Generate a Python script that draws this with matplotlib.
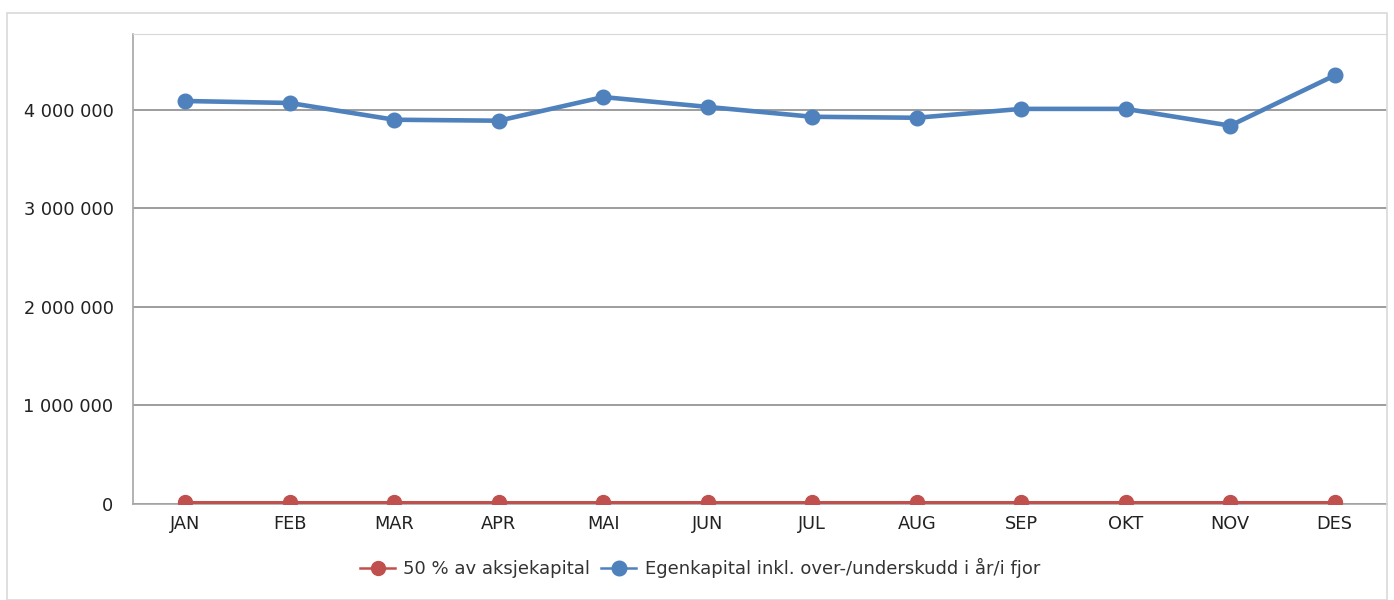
import matplotlib
matplotlib.use("Agg")
import matplotlib.pyplot as plt
from matplotlib.ticker import FuncFormatter
from matplotlib.patches import Rectangle

months = ["JAN", "FEB", "MAR", "APR", "MAI", "JUN", "JUL", "AUG", "SEP", "OKT", "NOV", "DES"]
aksjekapital_50 = [20000, 20000, 20000, 20000, 20000, 20000,
                   20000, 20000, 20000, 20000, 20000, 20000]
egenkapital = [4090000, 4070000, 3900000, 3890000, 4130000, 4030000,
               3930000, 3920000, 4010000, 4010000, 3840000, 4350000]

plt.rcParams['font.family'] = ['DejaVu Sans']

fig = plt.figure(figsize=(13.94, 6.0), dpi=100)
W, H = 1394, 600
# outer frame
fig.patches.append(Rectangle((7 / W, 0), (1387 - 7) / W, (600 - 13) / H,
                             transform=fig.transFigure, fill=False,
                             edgecolor="#d9d9d9", linewidth=1.2))
ax = fig.add_axes([133 / W, (600 - 504) / H, (1387 - 133) / W, (504 - 34) / H])

x = list(range(len(months)))
red = "#C0504D"
blue = "#4F81BD"
ax.plot(x, aksjekapital_50, color=red, linewidth=2.2, marker="o",
        markersize=10, label="50 % av aksjekapital", zorder=3)
ax.plot(x, egenkapital, color=blue, linewidth=3.3, marker="o",
        markersize=10.5, label="Egenkapital inkl. over-/underskudd i år/i fjor", zorder=4)

ax.set_xlim(-0.5, 11.5)
ax.set_ylim(0, 4770000)
ax.set_xticks(x)
ax.set_xticklabels(months)
ax.set_yticks([0, 1000000, 2000000, 3000000, 4000000])
ax.yaxis.set_major_formatter(FuncFormatter(lambda v, p: f"{int(v):,}".replace(",", " ")))
ax.grid(axis="y", color="#8c8c8c", linewidth=1.2)
ax.set_axisbelow(True)
ax.tick_params(axis="both", length=0, labelsize=12.8, colors="#222222")
ax.tick_params(axis="x", pad=8)
ax.tick_params(axis="y", pad=14)
for s in ["left", "bottom"]:
    ax.spines[s].set_color("#a6a6a6")
    ax.spines[s].set_linewidth(1.2)
    ax.spines[s].set_zorder(1)
ax.spines["top"].set_color("#d9d9d9")
ax.spines["right"].set_visible(False)

leg = fig.legend(loc="center", bbox_to_anchor=(700 / W, 1 - 568 / H), ncol=2,
                 frameon=False, fontsize=13, handlelength=1.95, handletextpad=0.45,
                 columnspacing=0.6, labelcolor="#333333")
for h in leg.legend_handles:
    h.set_linewidth(1.8)

fig.savefig("out.png", dpi=100)
